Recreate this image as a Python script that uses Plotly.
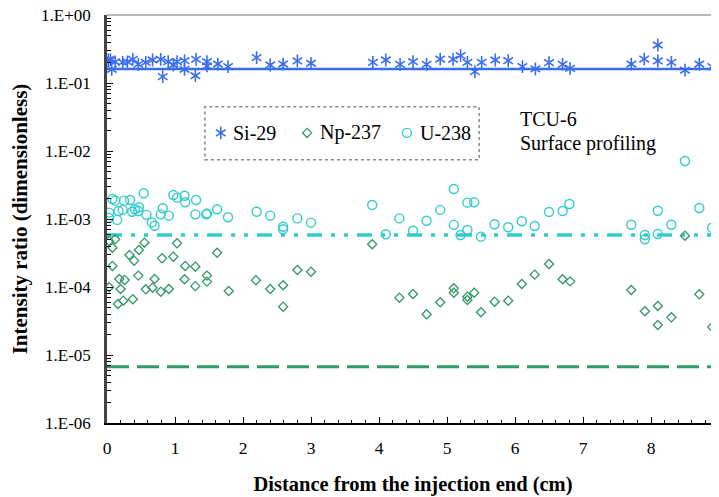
import plotly.graph_objects as go

# ---------------- data ----------------
si_x = [0.02, 0.05, 0.07, 0.12, 0.23, 0.30, 0.38, 0.46, 0.57, 0.67, 0.79, 0.82, 0.90, 0.975, 1.03, 1.14, 1.14,
        1.31, 1.30, 1.47, 1.47, 1.63, 1.78, 2.20, 2.40, 2.59, 2.80, 3.00, 3.91, 4.10, 4.31, 4.50, 4.70, 4.90,
        5.09, 5.20, 5.30, 5.41, 5.51, 5.71, 5.90, 6.11, 6.30, 6.50, 6.70, 6.81, 7.71, 7.90, 8.10, 8.10, 8.30,
        8.50, 8.71, 8.90]
si_y = [0.218, 0.22, 0.159, 0.205, 0.201, 0.205, 0.223, 0.188, 0.201, 0.218, 0.223, 0.124, 0.206, 0.184, 0.206,
        0.213, 0.159, 0.223, 0.128, 0.206, 0.178, 0.190, 0.174, 0.236, 0.184, 0.190, 0.211, 0.195, 0.201, 0.218,
        0.188, 0.206, 0.188, 0.225, 0.223, 0.252, 0.201, 0.147, 0.201, 0.218, 0.213, 0.174, 0.161, 0.199, 0.188,
        0.164, 0.190, 0.225, 0.362, 0.211, 0.201, 0.155, 0.190, 0.174]

np_x = [0.03, 0.12, 0.08, 0.08, 0.03, 0.18, 0.20, 0.26, 0.16, 0.24, 0.38, 0.33, 0.40, 0.46, 0.47, 0.55, 0.57,
        0.67, 0.70, 0.79, 0.81, 0.91, 0.975, 1.03, 1.15, 1.14, 1.30, 1.30, 1.47, 1.47, 1.62, 1.79, 2.19, 2.40,
        2.59, 2.59, 2.80, 3.00, 3.90, 4.30, 4.50, 4.70, 4.90, 5.10, 5.10, 5.30, 5.30, 5.40, 5.50, 5.70, 5.90,
        6.10, 6.29, 6.50, 6.70, 6.81, 7.71, 7.91, 8.10, 8.10, 8.30, 8.50, 8.71, 8.90]
np_y = [4.75e-4, 5.03e-4, 3.78e-4, 2.04e-4, 9.9e-5, 1.31e-4, 9.35e-5, 1.27e-4, 5.62e-5, 6.29e-5, 6.6e-5,
        2.96e-4, 2.44e-4, 1.47e-4, 3.50e-4, 4.48e-4, 9.25e-5, 9.77e-5, 1.31e-4, 8.53e-5, 2.64e-4, 9.35e-5,
        2.79e-4, 4.39e-4, 2.04e-4, 1.30e-4, 1.99e-4, 1.03e-4, 1.47e-4, 1.20e-4, 3.19e-4, 8.73e-5, 1.26e-4,
        9.35e-5, 1.06e-4, 5.13e-5, 1.78e-4, 1.68e-4, 4.25e-4, 6.97e-5, 7.89e-5, 3.97e-5, 5.96e-5, 9.57e-5,
        8.24e-5, 7.2e-5, 6.44e-5, 8.24e-5, 4.25e-5, 6.08e-5, 6.29e-5, 1.11e-4, 1.52e-4, 2.18e-4, 1.30e-4,
        1.21e-4, 9.04e-5, 4.40e-5, 5.26e-5, 2.76e-5, 3.58e-5, 5.68e-4, 7.81e-5, 2.58e-5]

u_x = [0.08, 0.12, 0.03, 0.03, 0.15, 0.17, 0.23, 0.25, 0.34, 0.37, 0.41, 0.47, 0.46, 0.54, 0.58, 0.66, 0.70,
       0.79, 0.82, 0.91, 0.975, 1.03, 1.14, 1.15, 1.31, 1.30, 1.46, 1.47, 1.62, 1.78, 2.20, 2.40, 2.59, 2.59,
       2.80, 3.00, 3.90, 4.10, 4.30, 4.50, 4.70, 4.90, 5.10, 5.10, 5.20, 5.30, 5.40, 5.30, 5.50, 5.70, 5.90,
       6.10, 6.29, 6.50, 6.70, 6.80, 7.71, 7.91, 7.91, 8.10, 8.10, 8.30, 8.50, 8.71, 8.90]
u_y = [1.97e-3, 1.86e-3, 1.24e-3, 1.04e-3, 9.7e-4, 1.31e-3, 1.36e-3, 1.86e-3, 1.90e-3, 1.28e-3, 1.39e-3,
       1.49e-3, 1.31e-3, 2.39e-3, 1.15e-3, 8.9e-4, 7.96e-4, 1.17e-3, 1.44e-3, 1.12e-3, 2.25e-3, 2.06e-3,
       2.20e-3, 1.76e-3, 1.90e-3, 1.17e-3, 1.17e-3, 1.21e-3, 1.39e-3, 1.06e-3, 1.28e-3, 1.12e-3, 7.7e-4,
       7.06e-4, 1.02e-3, 8.83e-4, 1.61e-3, 5.96e-4, 1.02e-3, 6.73e-4, 9.44e-4, 1.36e-3, 2.76e-3, 8.2e-4,
       5.82e-4, 1.74e-3, 1.76e-3, 6.89e-4, 5.5e-4, 8.36e-4, 7.55e-4, 9.25e-4, 7.89e-4, 1.27e-3, 1.31e-3,
       1.66e-3, 8.24e-4, 5.82e-4, 5.03e-4, 1.32e-3, 6.02e-4, 8.24e-4, 7.13e-3, 1.45e-3, 7.45e-4]

line_x = [0, 9]
si_level = 0.16
u_level = 5.8e-4
np_level = 6.7e-6

y_tickvals = [1e-6, 1e-5, 1e-4, 1e-3, 1e-2, 1e-1, 1e0]
y_ticktext = ["1.E-06", "1.E-05", "1.E-04", "1.E-03", "1.E-02", "1.E-01", "1.E+00"]
series_names = ["Si-29", "Np-237", "U-238"]

SI_C = "#3A6EF2"
NP_C = "#339966"
U_C = "#33CCCC"
FONT = "Liberation Serif"

fig = go.Figure()

# reference levels
fig.add_trace(go.Scatter(x=line_x, y=[si_level] * 2, mode="lines", line=dict(color=SI_C, width=2.5),
                         showlegend=False, hoverinfo="skip"))
fig.add_trace(go.Scatter(x=line_x, y=[u_level] * 2, mode="lines",
                         line=dict(color=U_C, width=3.5, dash="15px,9px,4px,9px,4px,9px"),
                         showlegend=False, hoverinfo="skip"))
fig.add_trace(go.Scatter(x=line_x, y=[np_level] * 2, mode="lines",
                         line=dict(color=NP_C, width=3, dash="22px,8px"),
                         showlegend=False, hoverinfo="skip"))

# data points
star_a = dict(symbol="y-up-open", size=8, color=SI_C, line=dict(color=SI_C, width=1.6))
star_b = dict(symbol="y-down-open", size=8, color=SI_C, line=dict(color=SI_C, width=1.6))
np_marker = dict(symbol="diamond-open", size=7, color=NP_C, line=dict(color=NP_C, width=1.3))
u_marker = dict(symbol="circle-open", size=9, color=U_C, line=dict(color=U_C, width=1.4))
fig.add_trace(go.Scatter(x=si_x, y=si_y, mode="markers", marker=star_a, name=series_names[0], showlegend=False))
fig.add_trace(go.Scatter(x=si_x, y=si_y, mode="markers", marker=star_b, showlegend=False, hoverinfo="skip"))
fig.add_trace(go.Scatter(x=np_x, y=np_y, mode="markers", name=series_names[1], showlegend=False,
                         marker=np_marker))
fig.add_trace(go.Scatter(x=u_x, y=u_y, mode="markers", name=series_names[2], showlegend=False,
                         marker=u_marker))

# custom legend on an auxiliary 0..1 axis pair
leg_y = 0.711
leg_mx = [0.186, 0.327, 0.490]
leg_tx = [0.203, 0.345, 0.508]
for mk in (star_a, star_b):
    fig.add_trace(go.Scatter(x=[leg_mx[0]], y=[leg_y], xaxis="x2", yaxis="y2", mode="markers", marker=mk,
                             showlegend=False, hoverinfo="skip"))
fig.add_trace(go.Scatter(x=[leg_mx[1]], y=[leg_y], xaxis="x2", yaxis="y2", mode="markers", marker=np_marker,
                         showlegend=False, hoverinfo="skip"))
fig.add_trace(go.Scatter(x=[leg_mx[2]], y=[leg_y], xaxis="x2", yaxis="y2", mode="markers", marker=u_marker,
                         showlegend=False, hoverinfo="skip"))
for tx, name in zip(leg_tx, series_names):
    fig.add_annotation(x=tx, y=leg_y, xref="x2", yref="y2", text=name, showarrow=False, xanchor="left",
                       yanchor="middle", font=dict(family=FONT, size=20, color="black"))

fig.add_shape(type="rect", xref="x2", yref="y2", x0=0.160, x1=0.608, y0=0.645, y1=0.775,
              line=dict(color="#888888", width=1.5, dash="dot"))

fig.add_annotation(x=0.672, y=0.745, xref="x2", yref="y2", text="TCU-6", showarrow=False, xanchor="left",
                   yanchor="middle", font=dict(family=FONT, size=20, color="black"))
fig.add_annotation(x=0.672, y=0.685, xref="x2", yref="y2", text="Surface profiling", showarrow=False,
                   xanchor="left", yanchor="middle", font=dict(family=FONT, size=20, color="black"))

# top border
fig.add_shape(type="line", xref="paper", yref="paper", x0=0, x1=1, y0=1, y1=1,
              line=dict(color="#A0A0A0", width=1.5))

minor_y = [k * 10.0 ** d for d in range(-6, 0) for k in range(2, 10)]

fig.update_layout(
    width=711, height=489,
    margin=dict(l=99, r=0, t=7, b=74),
    paper_bgcolor="white", plot_bgcolor="white",
    font=dict(family=FONT, size=17, color="black"),
    xaxis=dict(range=[0, 9], dtick=1, tick0=0, showgrid=False, zeroline=False, automargin=False,
               ticklabeloverflow="allow",
               showline=True, linecolor="black", linewidth=2,
               ticks="inside", ticklen=6, tickcolor="black", tickwidth=1,
               minor=dict(ticks="inside", ticklen=3, dtick=0.2, tickcolor="black", showgrid=False),
               ticklabelstandoff=8,
               tickfont=dict(family=FONT, size=17.5),
               title=dict(text="<b>Distance from the injection end (cm)</b>", standoff=20,
                          font=dict(family=FONT, size=20.5))),
    yaxis=dict(type="log", range=[-6, 0], tickmode="array", tickvals=y_tickvals, ticktext=y_ticktext,
               showgrid=False, zeroline=False, showline=True, linecolor="#444444", linewidth=2.5,
               automargin=False, ticklabeloverflow="allow",
               ticks="inside", ticklen=6, tickcolor="black", tickwidth=1,
               minor=dict(ticks="inside", ticklen=4, tickmode="array", tickvals=minor_y,
                          tickcolor="black", showgrid=False),
               ticklabelstandoff=10,
               tickfont=dict(family=FONT, size=17),
               title=dict(text="<b>Intensity ratio (dimensionless)</b>", standoff=8,
                          font=dict(family=FONT, size=21))),
    xaxis2=dict(overlaying="x", range=[0, 1], visible=False, fixedrange=True),
    yaxis2=dict(overlaying="y", range=[0, 1], visible=False, fixedrange=True),
    showlegend=False,
)

fig.write_html("out.html")
